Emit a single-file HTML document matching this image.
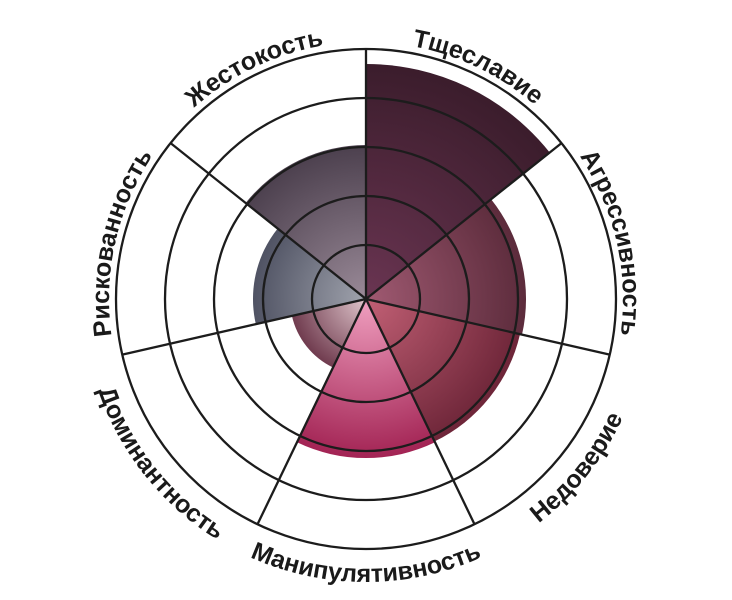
<!DOCTYPE html>
<html><head><meta charset="utf-8"><style>
html,body{margin:0;padding:0;background:#fff;width:732px;height:600px;overflow:hidden}
text{font-family:"Liberation Sans","DejaVu Sans",sans-serif;font-weight:bold;font-size:25px;fill:#1a1a1a}
</style></head><body>
<svg width="732" height="600" viewBox="0 0 732 600" xmlns="http://www.w3.org/2000/svg">
<defs>
<radialGradient id="g1" gradientUnits="userSpaceOnUse" cx="366" cy="299" r="240"><stop offset="0" stop-color="#6a3552"/><stop offset="1" stop-color="#3a1c2b"/></radialGradient>
<radialGradient id="g2" gradientUnits="userSpaceOnUse" cx="366" cy="299" r="165"><stop offset="0" stop-color="#a05a72"/><stop offset="1" stop-color="#5a2a3a"/></radialGradient>
<radialGradient id="g3" gradientUnits="userSpaceOnUse" cx="366" cy="299" r="165"><stop offset="0" stop-color="#c26075"/><stop offset="1" stop-color="#6a2336"/></radialGradient>
<radialGradient id="g4" gradientUnits="userSpaceOnUse" cx="366" cy="299" r="165"><stop offset="0" stop-color="#f0a0c0"/><stop offset="1" stop-color="#a01f50"/></radialGradient>
<radialGradient id="g5" gradientUnits="userSpaceOnUse" cx="366" cy="299" r="80"><stop offset="0" stop-color="#e0c6cc"/><stop offset="1" stop-color="#6a3448"/></radialGradient>
<radialGradient id="g6" gradientUnits="userSpaceOnUse" cx="366" cy="299" r="118"><stop offset="0" stop-color="#a0a3ad"/><stop offset="1" stop-color="#4c4f60"/></radialGradient>
<radialGradient id="g7" gradientUnits="userSpaceOnUse" cx="366" cy="299" r="158"><stop offset="0" stop-color="#9a8a98"/><stop offset="1" stop-color="#4a3e4c"/></radialGradient>
<path id="t1" d="M123.4,214.1 A257,257 0 0 1 450.9,56.4"/>
<path id="t2" d="M281.1,56.4 A257,257 0 0 1 608.6,214.1"/>
<path id="t3" d="M502.7,81.4 A257,257 0 0 1 583.6,435.7"/>
<path id="t7" d="M148.4,435.7 A257,257 0 0 1 229.3,81.4"/>
<path id="t4" d="M397.7,580.2 A283,283 0 0 0 647.2,267.3"/>
<path id="t5" d="M165.9,499.1 A283,283 0 0 0 566.1,499.1"/>
<path id="t6" d="M84.8,267.3 A283,283 0 0 0 334.3,580.2"/>
</defs>
<g>
<path d="M366,299 L366,64 A235,235 0 0 1 549.7,152.5 Z" fill="url(#g1)"/>
<path d="M366,299 L491.1,199.2 A160,160 0 0 1 522,334.6 Z" fill="url(#g2)"/>
<path d="M366,299 L520,334.2 A158,158 0 0 1 434.6,441.4 Z" fill="url(#g3)"/>
<path d="M366,299 L435,442.3 A159,159 0 0 1 297,442.3 Z" fill="url(#g4)"/>
<path d="M366,299 L333,367.5 A76,76 0 0 1 291.9,315.9 Z" fill="url(#g5)"/>
<path d="M366,299 L255.8,324.1 A113,113 0 0 1 277.7,228.5 Z" fill="url(#g6)"/>
<path d="M366,299 L245.6,203 A154,154 0 0 1 366,145 Z" fill="url(#g7)"/>
</g>
<g fill="none" stroke="#1c1c1c" stroke-width="2.3">
<circle cx="366" cy="299" r="54"/>
<circle cx="366" cy="299" r="103"/>
<circle cx="366" cy="299" r="152"/>
<circle cx="366" cy="299" r="201"/>
<circle cx="366" cy="299" r="250"/>
<line x1="366" y1="299" x2="366" y2="49"/>
<line x1="366" y1="299" x2="561.5" y2="143.1"/>
<line x1="366" y1="299" x2="609.7" y2="354.6"/>
<line x1="366" y1="299" x2="474.5" y2="524.3"/>
<line x1="366" y1="299" x2="257.5" y2="524.3"/>
<line x1="366" y1="299" x2="122.3" y2="354.6"/>
<line x1="366" y1="299" x2="170.6" y2="143.1"/>
</g>
<text><textPath href="#t1" startOffset="50%" text-anchor="middle">Жестокость</textPath></text>
<text><textPath href="#t2" startOffset="50%" text-anchor="middle">Тщеславие</textPath></text>
<text><textPath href="#t3" startOffset="50%" text-anchor="middle">Агрессивность</textPath></text>
<text><textPath href="#t7" startOffset="50%" text-anchor="middle">Рискованность</textPath></text>
<text><textPath href="#t4" startOffset="50%" text-anchor="middle">Недоверие</textPath></text>
<text><textPath href="#t5" startOffset="50%" text-anchor="middle">Манипулятивность</textPath></text>
<text><textPath href="#t6" startOffset="50%" text-anchor="middle">Доминантность</textPath></text>
</svg>
</body></html>
